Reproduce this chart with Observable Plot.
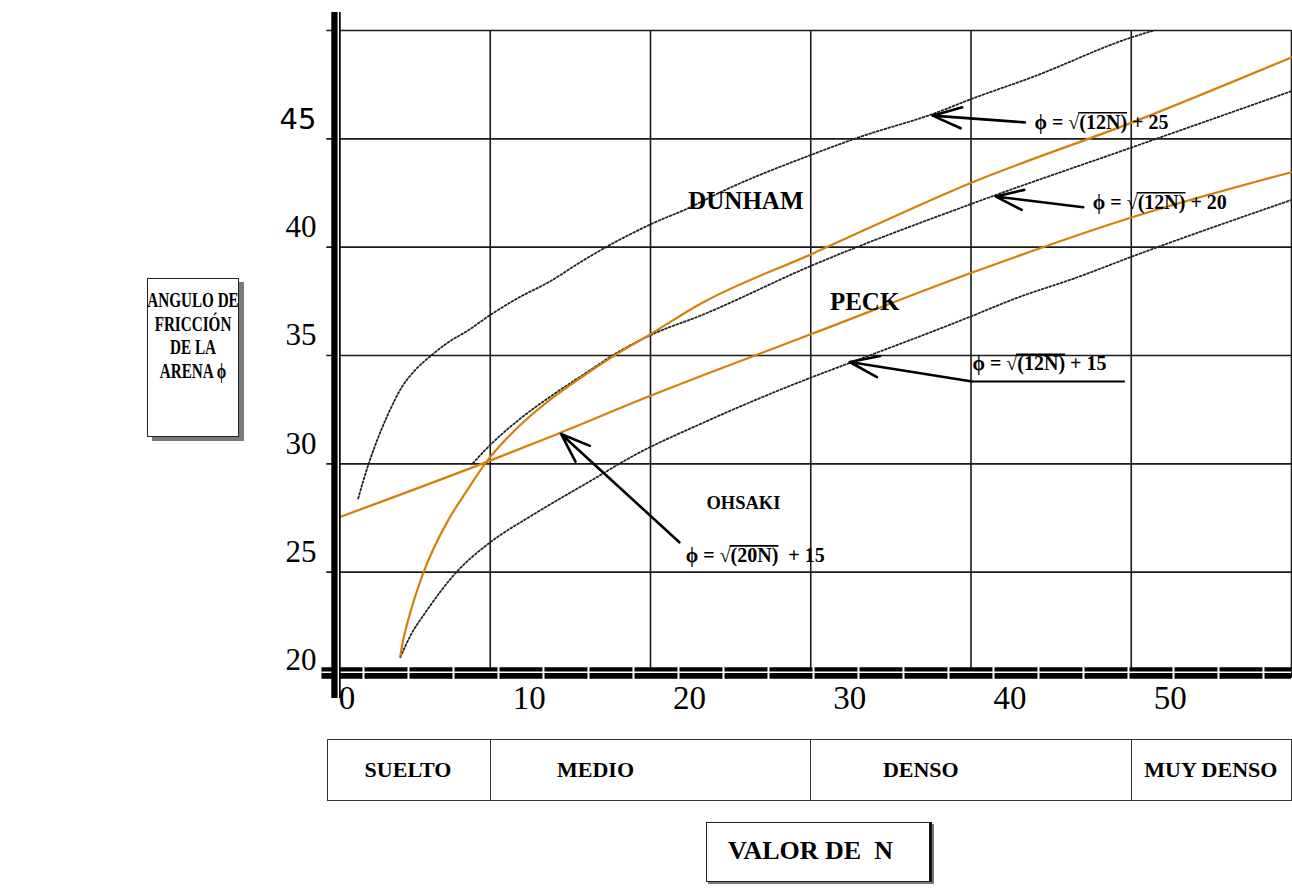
<!DOCTYPE html>
<html><head><meta charset="utf-8">
<script src="https://cdn.jsdelivr.net/npm/d3@7"></script>
<script src="https://cdn.jsdelivr.net/npm/@observablehq/plot@0.6"></script>
<style>
body{margin:0;background:#fff;}
#wrap{position:relative;width:1292px;height:888px;overflow:hidden;font-family:"Liberation Serif","Times New Roman",serif;}
.box{position:absolute;box-sizing:border-box;background:#fff;color:#000;font-weight:bold;}
.cell{position:absolute;box-sizing:border-box;border-top:1.5px solid #333;border-bottom:1.5px solid #333;border-right:1.5px solid #333;}
.clab{position:absolute;font-weight:bold;font-size:22px;white-space:nowrap;transform:translateX(-50%);}
</style></head><body><div id="wrap"></div>
<script>
// ---- axis ticks / grid ----
const xTicks = [10, 20, 30, 40, 50];
const xTickZero = [0];
const yTicks = [20, 25, 30, 35, 40];
const yTickTop = [45];
const xGrid = [10, 20, 30, 40, 50, 60];
const yGrid = [25, 30, 35, 40, 45, 50];

// ---- curves: [N, phi] ----
const dunham25 = [[1.76,28.4],[2.07,29.2],[2.48,30.15],[3.0,31.2],[3.63,32.3],[4.45,33.5],[5.28,34.3],[6.32,35.0],[7.36,35.6],[8.6,36.15],[10.06,36.9],[11.73,37.65],[13.8,38.45],[15.5,39.25],[17.1,39.95],[20.05,41.07],[22.3,41.78],[24.55,42.6],[30.06,44.27],[33.0,45.07],[37.7,46.17],[40.1,46.86],[43.8,47.84],[50.05,49.69],[51.4,50.0]];
const dunham20 = [[8.92,30.03],[9.86,30.77],[11.73,32.0],[14.0,33.23],[15.88,34.15],[17.96,35.15],[20.03,35.95],[23.15,36.85],[30.06,39.15],[40.07,42.01],[50.06,44.61],[60,47.2]];
const dunham15 = [[4.39,21.08],[5.08,22.15],[5.9,23.08],[7.99,25.08],[9.86,26.3],[12.76,27.69],[16.3,29.23],[19.0,30.4],[23.15,31.85],[30.08,34.0],[32.55,34.69],[40.12,36.84],[42.65,37.6],[46.6,38.6],[50.06,39.57],[60,42.18]];
const ohsaki = [[4.39,21.15],[4.56,21.85],[4.87,22.77],[5.8,24.92],[7.36,27.38],[8.4,28.6],[9.75,30.08],[11.73,31.69],[13.8,33.0],[15.9,34.1],[17.96,35.1],[20.03,36.0],[23.15,37.4],[30.08,39.69],[40.1,43.0],[50.06,45.76],[60,48.76]];
const peck = [[0.45,27.5],[9.75,30.08],[14.2,31.38],[20.03,33.15],[23.15,34.05],[30.08,36.0],[40.12,38.84],[50.06,41.38],[60,43.46]];

// ---- names and equations ----
const curveNames = ["DUNHAM", "PECK", "OHSAKI"];
const curveNameN = [25.95, 33.36, 25.8];
const curveNamePhi = [42.15, 37.46, 28.18];
const eqPre = ["\u03d5 = \u221a", "\u03d5 = \u221a", "\u03d5 = \u221a", "\u03d5 = \u221a"];
const eqRad = ["(12N)", "(12N)", "(12N)", "(20N)"];
const eqPost = [" + 25", " + 20", " + 15", "\u00a0\u00a0+ 15"];
const eqN = [43.96, 47.6, 40.09, 22.2];
const eqPhi = [45.76, 42.07, 34.61, 25.77];
const arrowFromN = [43.36, 47.0, 40.07, 21.8];
const arrowFromPhi = [45.76, 41.84, 33.8, 26.38];
const arrowToN = [37.6, 41.53, 32.43, 14.42];
const arrowToPhi = [46.07, 42.34, 34.7, 31.38];

// ---- density classes ----
const densityNames = ["SUELTO", "MEDIO", "DENSO", "MUY DENSO"];
const densityFrom = [0, 10, 30, 50];
const densityTo = [10, 30, 50, 60];
const densityLabelN = [4.9, 16.6, 36.9, 55.0];

const yLabelLines = ["ANGULO DE", "FRICCI\u00d3N", "DE LA", "ARENA \u03d5"];
const xLabelText = "VALOR DE\u00a0\u00a0N";

// ---- tables ----
const toRows = (name, pts) => pts.map(([N, phi]) => ({series: name, N, phi}));
const dotted = [...toRows("d25", dunham25), ...toRows("d20", dunham20), ...toRows("d15", dunham15)];
const orange = [...toRows("ohsaki", ohsaki), ...toRows("peck", peck)];
const names = curveNames.map((t, i) => ({t, N: curveNameN[i], phi: curveNamePhi[i]}));
const eqs = eqPre.map((p, i) => ({pre: p, rad: eqRad[i], post: eqPost[i], text: p + eqRad[i] + eqPost[i], N: eqN[i], phi: eqPhi[i]}));
const arrows = arrowFromN.map((n, i) => ({x1: n, y1: arrowFromPhi[i], x2: arrowToN[i], y2: arrowToPhi[i]}));
const underline = [{x1: eqN[2], x2: 49.6, y: arrowFromPhi[2]}];

const ink = "#1a1a1a";
const plot = Plot.plot({
  width: 1292, height: 888,
  marginLeft: 329.5, marginRight: 1, marginTop: 30, marginBottom: 208,
  x: {domain: [0, 60], label: null},
  y: {domain: [20, 50], label: null},
  style: {fontFamily: "'Liberation Serif','Times New Roman',serif", background: "transparent", overflow: "visible", color: "#000"},
  marks: [
    Plot.ruleX(xGrid, {x: d => d, y1: 20.1, y2: 50, stroke: ink, strokeWidth: 1.6}),
    Plot.ruleY(yGrid, {y: d => d, x1: -0.2, x2: 60, stroke: ink, strokeWidth: 1.6}),
    Plot.line(dotted, {x: "N", y: "phi", z: "series", stroke: "#222", strokeWidth: 1.8, strokeDasharray: "1.8 2.2", curve: "monotone-x"}),
    Plot.line(orange, {x: "N", y: "phi", z: "series", stroke: "#d4800c", strokeWidth: 2.2, curve: "monotone-x"}),
    // axes (double thick lines)
    Plot.ruleY([20], {x1: -0.5, x2: 60, dy: -7.5, stroke: "#000", strokeWidth: 11.5, strokeDasharray: "43 2", strokeDashoffset: 2}),
    Plot.ruleY([20], {x1: -0.5, x2: 60, dy: -8.3, stroke: "#fff", strokeWidth: 1.6}),
    Plot.ruleX([0], {y1: 19.17, y2: 50.83, dx: 6, stroke: "#000", strokeWidth: 9.4}),
    Plot.ruleX([0], {y1: 19.17, y2: 50.83, dx: 8.3, stroke: "#fff", strokeWidth: 1.4}),
    Plot.axisX({ticks: xTicks, tickSize: 0, tickPadding: 18, lineAnchor: "middle", dx: 39, fontSize: 33, label: null}),
    Plot.axisX({ticks: xTickZero, tickSize: 0, tickPadding: 18, lineAnchor: "middle", dx: 17, fontSize: 33, label: null}),
    Plot.axisY({ticks: yTicks, tickSize: 0, tickPadding: 13.5, dy: -20, fontSize: 31, label: null}),
    Plot.axisY({ticks: yTickTop, tickSize: 0, tickPadding: 13.5, dy: -19, fontSize: 29, fontFamily: "'DejaVu Sans', sans-serif", label: null}),
    // annotations
    Plot.arrow(arrows, {x1: "x1", y1: "y1", x2: "x2", y2: "y2", stroke: "#000", strokeWidth: 2.6, headLength: 18, headAngle: 40}),
    Plot.link(underline, {x1: "x1", x2: "x2", y1: "y", y2: "y", stroke: "#000", strokeWidth: 2}),
    Plot.text(names.slice(0, 2), {x: "N", y: "phi", text: "t", fontSize: 25, fontWeight: "bold", fill: "#000"}),
    Plot.text(names.slice(2), {x: "N", y: "phi", text: "t", fontSize: 18.5, fontWeight: "bold", fill: "#000"}),
    Plot.text(eqs, {x: "N", y: "phi", text: "text", textAnchor: "start", fontSize: 20, fontWeight: "bold", fill: "#000"})
  ]
});

const wrap = document.getElementById("wrap");
plot.style.position = "absolute";
plot.style.left = "0px";
plot.style.top = "0px";
wrap.appendChild(plot);

// overline over the radicands
const svgNS = "http://www.w3.org/2000/svg";
plot.querySelectorAll("text").forEach(t => {
  const e = eqs.find(q => q.text === t.textContent);
  if (!e) return;
  try {
    const i0 = e.pre.length, i1 = e.pre.length + e.rad.length - 1;
    const p0 = t.getStartPositionOfChar(i0), p1 = t.getEndPositionOfChar(i1);
    const ln = document.createElementNS(svgNS, "line");
    const yy = p0.y - 16;
    ln.setAttribute("x1", p0.x - 1); ln.setAttribute("x2", p1.x);
    ln.setAttribute("y1", yy); ln.setAttribute("y2", yy);
    ln.setAttribute("stroke", "#000"); ln.setAttribute("stroke-width", "1.6");
    const tr = t.getAttribute("transform");
    if (tr) ln.setAttribute("transform", tr);
    t.parentNode.appendChild(ln);
  } catch (err) {}
});

// density band (positions through the plot's x scale)
const sx = plot.scale("x");
const bandTop = 739, bandH = 62;
densityNames.forEach((name, i) => {
  const c = document.createElement("div");
  c.className = "cell";
  const l = sx.apply(densityFrom[i]) - (i === 0 ? 2.5 : 0);
  const r = sx.apply(densityTo[i]);
  c.style.left = l + "px";
  c.style.width = (r - l + 0.75) + "px";
  c.style.top = bandTop + "px";
  c.style.height = bandH + "px";
  if (i === 0) c.style.borderLeft = "1.5px solid #333";
  wrap.appendChild(c);
  const lab = document.createElement("div");
  lab.className = "clab";
  lab.textContent = name;
  lab.style.left = sx.apply(densityLabelN[i]) + "px";
  lab.style.top = bandTop + "px";
  lab.style.lineHeight = bandH + "px";
  wrap.appendChild(lab);
});

// y title box
const yb = document.createElement("div");
yb.className = "box";
Object.assign(yb.style, {left: "147px", top: "278px", width: "92px", height: "159px", border: "1.5px solid #222", boxShadow: "5px 4px 0 #7a7a7a", overflow: "visible"});
const yt = document.createElement("div");
Object.assign(yt.style, {position: "absolute", left: "50%", top: "10px", width: "130px", marginLeft: "-65px", textAlign: "center", fontSize: "20.5px", lineHeight: "23.5px", whiteSpace: "nowrap", transform: "scaleX(0.74)", transformOrigin: "50% 0"});
yt.innerHTML = yLabelLines.join("<br>");
yb.appendChild(yt);
wrap.appendChild(yb);

// x title box
const xb = document.createElement("div");
xb.className = "box";
Object.assign(xb.style, {left: "706px", top: "822px", width: "226px", height: "60px", border: "1.5px solid #222", borderRight: "3.5px solid #111", boxShadow: "2px 2px 0 #777", fontSize: "26px", lineHeight: "55px", paddingLeft: "21px", whiteSpace: "pre"});
xb.textContent = xLabelText;
wrap.appendChild(xb);
</script>
</body></html>
